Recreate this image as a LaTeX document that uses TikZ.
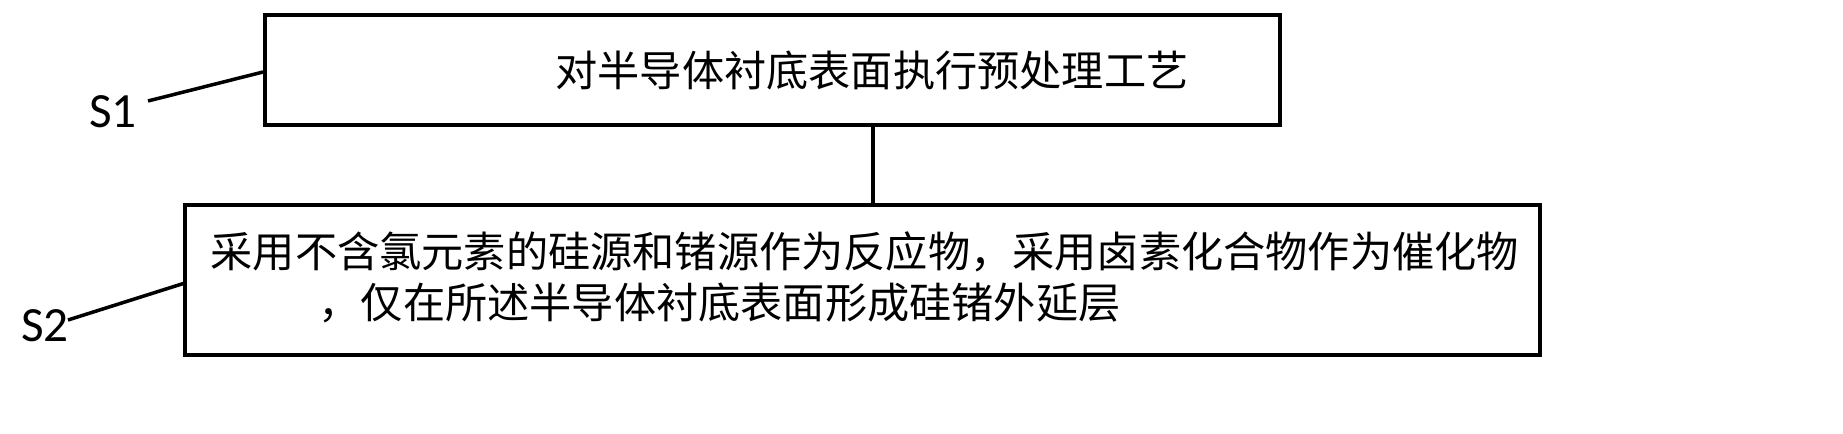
\documentclass[tikz,border=0pt]{standalone}
\usepackage{fontspec}
\newfontfamily\cjk{Noto Sans CJK SC}
\setsansfont{Carlito}
\begin{document}
\begin{tikzpicture}[x=0.01cm,y=-0.01cm,
  ln/.style={line width=1pt},
  txt/.style={font=\cjk\fontsize{12}{14}\selectfont,inner sep=0},
  lab/.style={font=\sffamily\fontsize{14}{16}\selectfont,inner sep=0}]
\useasboundingbox (0,0) rectangle (1843,434);
\draw[ln] (265,15) rectangle (1280,125);
\draw[ln] (185,205) rectangle (1540,355);
\node[txt] (t1) at (872,70) {对半导体衬底表面执行预处理工艺};
\node[txt,anchor=west] (t2) at (210,252) {采用不含氯元素的硅源和锗源作为反应物，采用卤素化合物作为催化物};
\node[txt,anchor=west] (t3) at (318,303) {，仅在所述半导体衬底表面形成硅锗外延层};
\coordinate (a) at (873,125);
\coordinate (b) at (873,205);
\draw[ln] (a) -- (b);
\node[lab] (s1) at (113,112) {S1};
\node[lab] (s2) at (45,326) {S2};
\coordinate (e1) at (263,72);
\coordinate (e2) at (185,283);
\draw[ln] (148,101) -- (e1);
\draw[ln] (68,320) -- (e2);
\end{tikzpicture}
\end{document}
